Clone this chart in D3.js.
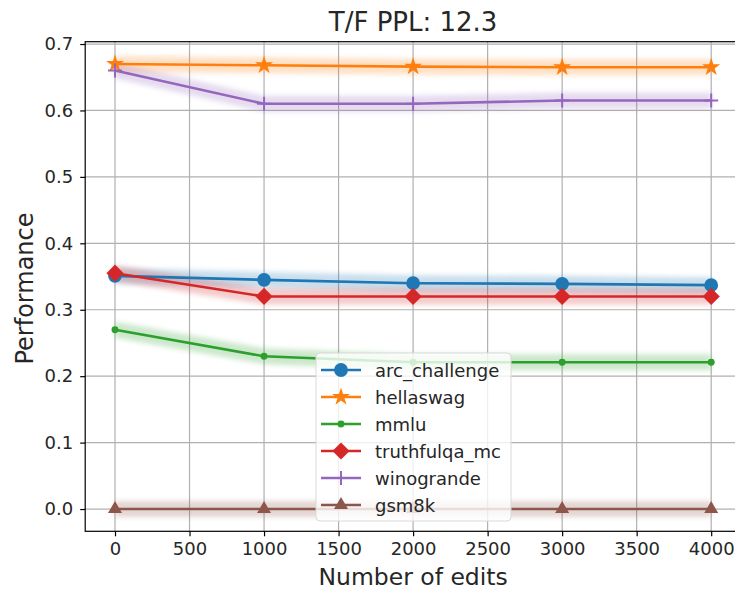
<!DOCTYPE html>
<html>
<head>
<meta charset="utf-8">
<script src="https://cdn.jsdelivr.net/npm/d3@7"></script>
<style>
  html, body { margin: 0; padding: 0; background: #fff; }
  svg { display: block; }
  text { font-family: "DejaVu Sans", sans-serif; fill: #262626; }
</style>
</head>
<body>
<svg id="chart" width="735" height="591"></svg>
<script>
// Benchmark scores after successive batches of edits
const edits = [0, 1000, 2000, 3000, 4000];
const arcChallenge = [0.351, 0.345, 0.340, 0.339, 0.337];
const hellaswag    = [0.670, 0.668, 0.666, 0.665, 0.665];
const mmlu         = [0.270, 0.230, 0.221, 0.221, 0.221];
const truthfulqaMc = [0.355, 0.320, 0.320, 0.320, 0.320];
const winogrande   = [0.660, 0.610, 0.610, 0.615, 0.615];
const gsm8k        = [0.000, 0.000, 0.000, 0.000, 0.000];
// spread shown as a soft band around each line
const spread = [0.012, 0.012, 0.012, 0.012, 0.012];

const seriesNames = ["arc_challenge", "hellaswag", "mmlu", "truthfulqa_mc", "winogrande", "gsm8k"];
const seriesValues = [arcChallenge, hellaswag, mmlu, truthfulqaMc, winogrande, gsm8k];
const seriesColors = ["#1f77b4", "#ff7f0e", "#2ca02c", "#d62728", "#9467bd", "#8c564b"];
const seriesMarkers = ["circle", "star", "point", "diamond", "plus", "triangle"];

const xTicks = [0, 500, 1000, 1500, 2000, 2500, 3000, 3500, 4000];
const yTicks = [0.0, 0.1, 0.2, 0.3, 0.4, 0.5, 0.6, 0.7];

const titleText = "T/F PPL: 12.3";
const xLabel = "Number of edits";
const yLabel = "Performance";

const svg = d3.select("#chart");
const pLeft = 85.2, pRight = 741, pTop = 41.7, pBottom = 531.3;
const font = "DejaVu Sans, sans-serif";

const x = d3.scaleLinear().domain([-200, 4200]).range([pLeft, pRight]);
const y = d3.scaleLinear().domain([-0.0335, 0.7035]).range([pBottom, pTop]);

const defs = svg.append("defs");
defs.append("filter").attr("id", "soft")
  .attr("x", "-10%").attr("y", "-100%").attr("width", "120%").attr("height", "300%")
  .append("feGaussianBlur").attr("stdDeviation", 2.5);
defs.append("clipPath").attr("id", "plotClip")
  .append("rect").attr("x", pLeft).attr("y", pTop).attr("width", pRight - pLeft).attr("height", pBottom - pTop);

// grid
const grid = svg.append("g");
grid.selectAll(".gx").data(xTicks).join("line")
  .attr("x1", d => x(d)).attr("x2", d => x(d)).attr("y1", pTop).attr("y2", pBottom)
  .attr("stroke", "#b0b0b0").attr("stroke-width", 1.2);
grid.selectAll(".gy").data(yTicks).join("line")
  .attr("y1", d => y(d)).attr("y2", d => y(d)).attr("x1", pLeft).attr("x2", pRight)
  .attr("stroke", "#b0b0b0").attr("stroke-width", 1.2);

// bands
const plot = svg.append("g").attr("clip-path", "url(#plotClip)");
seriesValues.forEach((vals, i) => {
  const area = d3.area()
    .x((d, j) => x(edits[j]))
    .y0((d, j) => y(d - spread[j]))
    .y1((d, j) => y(d + spread[j]));
  plot.append("path").datum(vals).attr("d", area)
    .attr("fill", seriesColors[i]).attr("opacity", 0.24).attr("filter", "url(#soft)");
});

// lines
const line = d3.line().x((d, j) => x(edits[j])).y(d => y(d));
seriesValues.forEach((vals, i) => {
  plot.append("path").datum(vals).attr("d", line)
    .attr("fill", "none").attr("stroke", seriesColors[i]).attr("stroke-width", 2.6);
});

function drawMarker(g, type, color, cx, cy) {
  const sym = {
    circle: [d3.symbolCircle, 150],
    star: [d3.symbolStar, 100],
    point: [d3.symbolCircle, 38],
    triangle: [d3.symbolTriangle, 85]
  };
  if (type === "plus") {
    g.append("path").attr("d", `M${cx - 7},${cy}H${cx + 7}M${cx},${cy - 7}V${cy + 7}`)
      .attr("stroke", color).attr("stroke-width", 2);
    return;
  }
  if (type === "diamond") {
    const r = 8.6;
    g.append("path").attr("d", `M${cx},${cy - r}L${cx + r},${cy}L${cx},${cy + r}L${cx - r},${cy}Z`)
      .attr("fill", color);
    return;
  }
  const [s, size] = sym[type];
  g.append("path").attr("d", d3.symbol().type(s).size(size)())
    .attr("transform", `translate(${cx},${cy})`).attr("fill", color);
}

const marks = svg.append("g");
seriesValues.forEach((vals, i) => {
  vals.forEach((v, j) => drawMarker(marks, seriesMarkers[i], seriesColors[i], x(edits[j]), y(v)));
});

// spines
svg.append("rect").attr("x", pLeft).attr("y", pTop).attr("width", pRight - pLeft).attr("height", pBottom - pTop)
  .attr("fill", "none").attr("stroke", "#000").attr("stroke-width", 1.2);

// axes
const xAxis = svg.append("g").attr("transform", `translate(0,${pBottom})`)
  .call(d3.axisBottom(x).tickValues(xTicks).tickFormat(d3.format("d")).tickSize(5).tickPadding(6));
const yAxis = svg.append("g").attr("transform", `translate(${pLeft},0)`)
  .call(d3.axisLeft(y).tickValues(yTicks).tickFormat(d3.format(".1f")).tickSize(5).tickPadding(7));
[xAxis, yAxis].forEach(a => {
  a.select(".domain").remove();
  a.selectAll(".tick line").attr("stroke", "#000").attr("stroke-width", 1.2);
  a.selectAll(".tick text").attr("font-size", 18).attr("fill", "#262626").attr("font-family", font);
});

svg.append("text").attr("x", (pLeft + pRight) / 2).attr("y", 31).attr("text-anchor", "middle")
  .attr("font-size", 26).style("font-family", font).text(titleText);
svg.append("text").attr("x", (pLeft + pRight) / 2).attr("y", 585).attr("text-anchor", "middle")
  .attr("font-size", 23.5).style("font-family", font).text(xLabel);
svg.append("text").attr("transform", `translate(33,${(pTop + pBottom) / 2 + 2}) rotate(-90)`).attr("text-anchor", "middle")
  .attr("font-size", 24).style("font-family", font).text(yLabel);

// legend
const lg = svg.append("g");
const lx = 316, ly = 353, lw = 195, lh = 168, rowH = 27;
lg.append("rect").attr("x", lx).attr("y", ly).attr("width", lw).attr("height", lh).attr("rx", 4)
  .attr("fill", "#fff").attr("fill-opacity", 0.8).attr("stroke", "#d9d9d9");
seriesNames.forEach((name, i) => {
  const cy = ly + 17 + i * rowH;
  lg.append("line").attr("x1", lx + 5).attr("x2", lx + 45).attr("y1", cy).attr("y2", cy)
    .attr("stroke", seriesColors[i]).attr("stroke-width", 2.6);
  drawMarker(lg, seriesMarkers[i], seriesColors[i], lx + 25, cy);
  lg.append("text").attr("x", lx + 59).attr("y", cy + 6.5).attr("font-size", 18)
    .style("font-family", font).text(name);
});
</script>
</body>
</html>
